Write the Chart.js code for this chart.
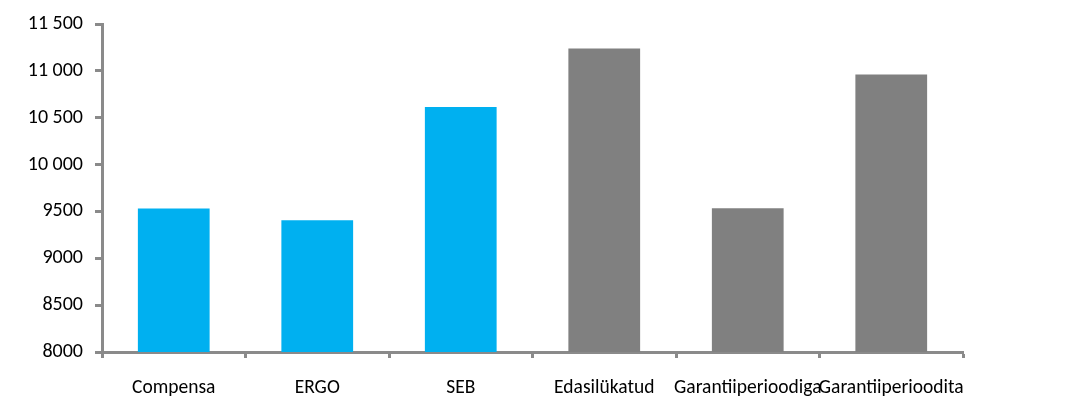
<!DOCTYPE html>
<html>
<head>
<meta charset="utf-8">
<script src="https://cdn.jsdelivr.net/npm/chart.js@4"></script>
<style>
html,body{margin:0;padding:0;background:#fff;}
#wrap{width:1079px;height:401px;}
</style>
</head>
<body>
<div id="wrap"><canvas id="c" width="1079" height="401"></canvas></div>
<script>
const categories = ['Compensa', 'ERGO', 'SEB', 'Edasilükatud', 'Garantiiperioodiga', 'Garantiiperioodita'];
const values = [9532, 9405, 10615, 11238, 9535, 10960];
const barColors = ['#00B0F0', '#00B0F0', '#00B0F0', '#808080', '#808080', '#808080'];
const yTickLabels = ['8000', '8500', '9000', '9500', '10 000', '10 500', '11 000', '11 500'];
const yMin = 8000, yMax = 11500, yStep = 500;

const FONT = "'Carlito', 'Lato', 'Liberation Sans', sans-serif";
const axisColor = '#8a8a8a';

new Chart(document.getElementById('c'), {
  type: 'bar',
  data: {
    labels: categories,
    datasets: [{
      data: values,
      backgroundColor: barColors,
      borderWidth: 0,
      categoryPercentage: 1.0,
      barPercentage: 0.5
    }]
  },
  options: {
    responsive: false,
    animation: false,
    events: [],
    layout: { padding: { top: 12, right: 116, left: 0, bottom: 0 } },
    plugins: { legend: { display: false }, tooltip: { enabled: false } },
    scales: {
      x: {
        border: { display: true, color: axisColor, width: 3 },
        grid: { display: true, drawOnChartArea: false, drawTicks: true, tickLength: 6, tickColor: axisColor, tickWidth: 3, offset: true },
        ticks: { autoSkip: false, maxRotation: 0, minRotation: 0, padding: 18, color: '#000', font: { family: FONT, size: 19.5 } },
        afterFit: s => { s.height = 49; }
      },
      y: {
        min: yMin, max: yMax,
        border: { display: true, color: axisColor, width: 3 },
        grid: { display: true, drawOnChartArea: false, drawTicks: true, tickLength: 7, tickColor: axisColor, tickWidth: 3 },
        ticks: {
          stepSize: yStep,
          padding: 12,
          color: '#000',
          font: { family: FONT, size: 20 },
          callback: (v) => { const i = Math.round((v - yMin) / yStep); return yTickLabels[i]; }
        },
        afterFit: s => { s.width = 102; }
      }
    }
  }
});
</script>
</body>
</html>
